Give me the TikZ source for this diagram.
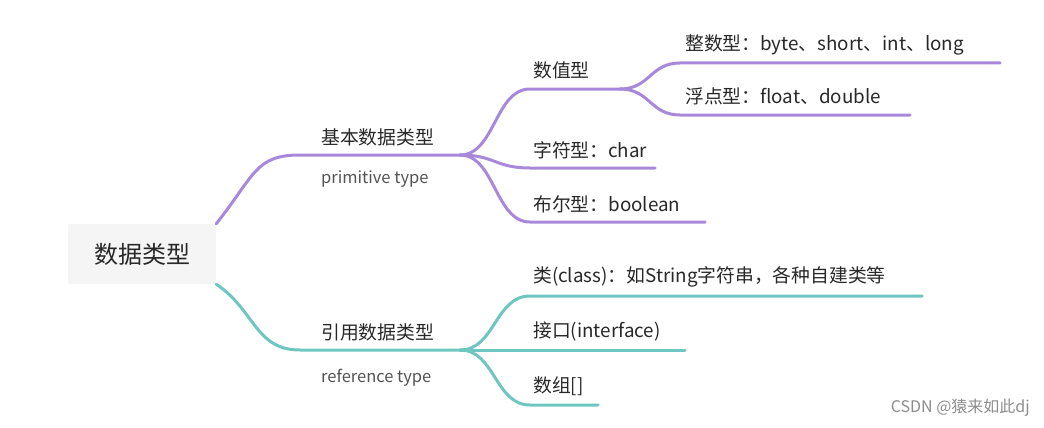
\documentclass[tikz,border=0pt]{standalone}
\usepackage{fontspec}
\setmainfont{Noto Sans CJK SC}
\definecolor{pur}{RGB}{167,136,218}
\definecolor{tea}{RGB}{110,198,192}
\definecolor{txt}{RGB}{40,40,40}
\begin{document}
\begin{tikzpicture}[x=1pt,y=-1pt,
  lab/.style={anchor=west,inner sep=0pt,text=txt,font=\fontsize{18.8}{22}\selectfont},
  sub/.style={anchor=west,inner sep=0pt,text=txt!80,font=\fontsize{16.5}{19}\selectfont},
  pl/.style={draw=pur,line width=3pt,line cap=round},
  tl/.style={draw=tea,line width=3pt,line cap=round}]
\useasboundingbox (0,0) rectangle (1044,428);
\node[fill=black!4,minimum width=148pt,minimum height=60pt,rounded corners=2pt,text=txt,font=\fontsize{24}{28}\selectfont] (root) at (142,254) {数据类型};
% purple
\coordinate (b1s) at (300,155); \coordinate (b1e) at (460,155);
\coordinate (n1s) at (530,89); \coordinate (n1e) at (620,89);
\coordinate (n2s) at (530,168); \coordinate (n2e) at (655,168);
\coordinate (n3s) at (530,222); \coordinate (n3e) at (705,222);
\coordinate (m1s) at (680,63); \coordinate (m1e) at (1000,63);
\coordinate (m2s) at (680,115); \coordinate (m2e) at (910,115);
\draw[pl] (root.north east) .. controls (255,175) and (255,155) .. (b1s) -- (b1e);
\draw[pl] (b1e) .. controls (495,155) and (495,89) .. (n1s) -- (n1e);
\draw[pl] (b1e) .. controls (495,155) and (495,168) .. (n2s) -- (n2e);
\draw[pl] (b1e) .. controls (495,155) and (495,222) .. (n3s) -- (n3e);
\draw[pl] (n1e) .. controls (650,89) and (650,63) .. (m1s) -- (m1e);
\draw[pl] (n1e) .. controls (650,89) and (650,115) .. (m2s) -- (m2e);
\node[lab] (t1) at (321,137) {基本数据类型};
\node[sub] (t1b) at (321,179) {primitive type};
\node[lab] (t2) at (533,70) {数值型};
\node[lab] (t3) at (533,150) {字符型：char};
\node[lab] (t4) at (533,204) {布尔型：boolean};
\node[lab] (t5) at (685,45) {整数型：byte、short、int、long};
\node[lab] (t6) at (685,96) {浮点型：float、double};
% teal
\coordinate (b2s) at (300,350); \coordinate (b2e) at (460,350);
\coordinate (r1s) at (530,296); \coordinate (r1e) at (922,296);
\coordinate (r2s) at (530,350); \coordinate (r2e) at (685,350);
\coordinate (r3s) at (530,405); \coordinate (r3e) at (598,405);
\draw[tl] (root.south east) .. controls (255,310) and (255,350) .. (b2s) -- (b2e);
\draw[tl] (b2e) .. controls (495,350) and (495,296) .. (r1s) -- (r1e);
\draw[tl] (b2e) -- (r2e);
\draw[tl] (b2e) .. controls (495,350) and (495,405) .. (r3s) -- (r3e);
\node[lab] (t7) at (321,332) {引用数据类型};
\node[sub] (t7b) at (321,378) {reference type};
\node[lab] (t8) at (533,277) {类(class)：如String字符串，各种自建类等};
\node[lab] (t9) at (533,331) {接口(interface)};
\node[lab] (t10) at (533,386) {数组[]};
\node[anchor=east,inner sep=0pt,text=black!45,font=\fontsize{16}{19}\selectfont] (wm) at (1030,408) {CSDN @猿来如此dj};
\end{tikzpicture}
\end{document}
